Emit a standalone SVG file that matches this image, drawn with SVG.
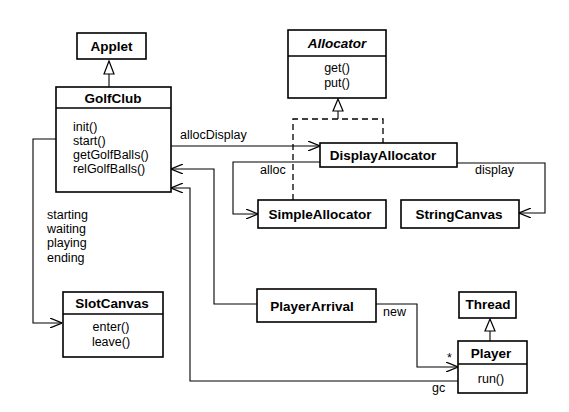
<svg xmlns="http://www.w3.org/2000/svg" width="569" height="412" viewBox="0 0 569 412">
<style>
.box{fill:#fff;stroke:#000;stroke-width:1.6}
.div{stroke:#000;stroke-width:1.3}
.t{font-family:"Liberation Sans",Arial,sans-serif;font-size:13.5px;font-weight:bold;fill:#000}
.m{font-family:"Liberation Sans",Arial,sans-serif;font-size:12.5px;fill:#000}
.c{fill:none;stroke:#000;stroke-width:1.1}
.d{fill:none;stroke:#000;stroke-width:1.3;stroke-dasharray:6,4}
.tri{fill:#fff;stroke:#000;stroke-width:1.2}
</style>
<defs>
<marker id="arr" viewBox="0 0 12 10" refX="12" refY="5" markerWidth="12" markerHeight="10" markerUnits="userSpaceOnUse" orient="auto">
<path d="M0,0 L12,5 L0,10" fill="none" stroke="#000" stroke-width="1.2"/>
</marker>
</defs>
<rect width="569" height="412" fill="#fff"/>
<g id="connectors">
<line class="c" x1="109" y1="74" x2="109" y2="87"/>
<polygon class="tri" points="109,61 104,74 114,74"/>
<line class="c" x1="338" y1="111" x2="338" y2="119"/>
<polygon class="tri" points="338,99 333,111 343,111"/>
<path class="d" d="M293,200 V119 H383 V143"/>
<line class="c" x1="490" y1="331" x2="490" y2="341"/>
<polygon class="tri" points="490,319 485,331 495,331"/>
<path class="c" d="M171,146 H320" marker-end="url(#arr)"/>
<path class="c" d="M320,162 H233 V214 H258" marker-end="url(#arr)"/>
<path class="c" d="M457,163 H545 V213 H519" marker-end="url(#arr)"/>
<path class="c" d="M56,139 H33 V323 H62" marker-end="url(#arr)"/>
<path class="c" d="M257,304 H214 V169 H171" marker-end="url(#arr)"/>
<path class="c" d="M458,381 H190 V188 H171" marker-end="url(#arr)"/>
<path class="c" d="M376,304 H417 V367 H458" marker-end="url(#arr)"/>
<text class="m" x="180" y="139">allocDisplay</text>
<text class="m" x="260" y="174">alloc</text>
<text class="m" x="475" y="174">display</text>
<text class="m" x="383" y="316">new</text>
<text class="m" x="447" y="362">*</text>
<text class="m" x="432" y="392">gc</text>
<text class="m" x="47" y="219">starting</text>
<text class="m" x="47" y="233">waiting</text>
<text class="m" x="47" y="247">playing</text>
<text class="m" x="47" y="262">ending</text>
</g>
<g id="Applet">
<rect class="box" x="77" y="33" width="69" height="26"/>
<text class="t" x="111.5" y="50.5" text-anchor="middle">Applet</text>
</g>
<g id="GolfClub">
<rect class="box" x="56" y="87" width="115" height="105"/>
<line class="div" x1="56" y1="108" x2="171" y2="108"/>
<text class="t" x="113" y="102.5" text-anchor="middle">GolfClub</text>
<text class="m" x="73" y="130.5">init()</text>
<text class="m" x="73" y="144.5">start()</text>
<text class="m" x="73" y="158.5">getGolfBalls()</text>
<text class="m" x="73" y="172.5">relGolfBalls()</text>
</g>
<g id="Allocator">
<rect class="box" x="288" y="30" width="98" height="68"/>
<line class="div" x1="288" y1="56" x2="386" y2="56"/>
<text class="t" x="337" y="47.5" text-anchor="middle" font-style="italic">Allocator</text>
<text class="m" x="337" y="72" text-anchor="middle">get()</text>
<text class="m" x="337" y="87" text-anchor="middle">put()</text>
</g>
<g id="DisplayAllocator">
<rect class="box" x="320" y="143" width="137" height="24"/>
<text class="t" x="383" y="159.5" text-anchor="middle">DisplayAllocator</text>
</g>
<g id="SimpleAllocator">
<rect class="box" x="258" y="200" width="128" height="28"/>
<text class="t" x="320" y="218.5" text-anchor="middle">SimpleAllocator</text>
</g>
<g id="StringCanvas">
<rect class="box" x="401" y="200" width="118" height="28"/>
<text class="t" x="459" y="218.5" text-anchor="middle">StringCanvas</text>
</g>
<g id="SlotCanvas">
<rect class="box" x="63" y="292" width="100" height="65"/>
<line class="div" x1="63" y1="314" x2="163" y2="314"/>
<text class="t" x="112" y="307.5" text-anchor="middle">SlotCanvas</text>
<text class="m" x="111" y="331" text-anchor="middle">enter()</text>
<text class="m" x="111" y="346" text-anchor="middle">leave()</text>
</g>
<g id="PlayerArrival">
<rect class="box" x="257" y="289" width="119" height="33"/>
<text class="t" x="312" y="310.5" text-anchor="middle">PlayerArrival</text>
</g>
<g id="Thread">
<rect class="box" x="459" y="292" width="57" height="26"/>
<text class="t" x="488" y="309" text-anchor="middle">Thread</text>
</g>
<g id="Player">
<rect class="box" x="458" y="341" width="69" height="52"/>
<line class="div" x1="458" y1="364" x2="527" y2="364"/>
<text class="t" x="491" y="358" text-anchor="middle">Player</text>
<text class="m" x="491" y="383" text-anchor="middle">run()</text>
</g>
</svg>
